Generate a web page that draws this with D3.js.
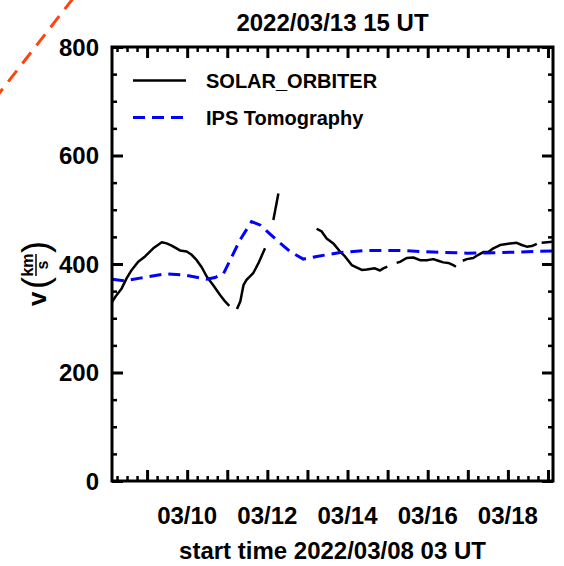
<!DOCTYPE html>
<html>
<head>
<meta charset="utf-8">
<script src="https://cdn.jsdelivr.net/npm/d3@7/dist/d3.min.js"></script>
<style>
  html, body { margin: 0; padding: 0; background: #fff; }
  svg { display: block; font-family: "Liberation Sans", Arial, sans-serif; font-weight: bold; }
</style>
</head>
<body>
<svg id="chart" width="564" height="566"></svg>
<script>
// Solar wind speed: Solar Orbiter in-situ vs IPS tomography
const titleText = "2022/03/13 15 UT";
const startLabel = "start time 2022/03/08 03 UT";
const startTime = Date.UTC(2022, 2, 8, 3);   // 2022/03/08 03 UT
const spanDays = 11;

// Solar Orbiter segments: [hours since start, km/s]
const soSeg1 = [[0,330],[2.8,343],[5.8,355],[8.8,374],[11.8,389],[15.7,404],[19.8,414],[24.7,429],[29.8,440],[32.7,438],[35.7,434],[40.7,425],[44.7,423],[47.7,417],[50.7,407],[53.7,394],[56.7,377],[60.6,361],[64.7,343],[67.7,331],[70.2,323]];
const soSeg2 = [[74.8,317],[76.8,331],[78.7,361],[80.6,371],[82.6,377],[84.5,383],[87.6,401],[91.6,429]];
const soSeg3 = [[96.6,481],[99.6,530]];
const soSeg4 = [[122.5,465],[125.5,460],[128.5,447],[132.5,438],[136.5,423],[139.5,414],[143.5,398],[149.5,389],[152.5,390],[157.4,392],[160.4,388],[162.4,392],[164.8,395]];
const soSeg5 = [[170.4,402],[172.4,404],[176.4,411],[180.4,412],[184.4,407],[188.4,407],[192.3,409],[195.3,406],[198.3,403],[201.3,402],[204.3,398],[205.9,395]];
const soSeg6 = [[210,406],[212.4,409],[216.3,411],[219.3,417],[222.3,422],[225.3,422],[228.3,429],[232.3,435],[238.3,438],[242.3,439],[245.3,435],[248.3,432],[251.3,433],[254.3,437]];
const soSeg7 = [[257.2,439],[264,441]];
const soSegments = [soSeg1, soSeg2, soSeg3, soSeg4, soSeg5, soSeg6, soSeg7];

// IPS tomography: [hours since start, km/s]
const ipsHours = [0,7.7,16.8,32.6,42.7,56.6,61.7,66.7,76.6,83.5,88.6,98.6,106.6,114.5,122.6,136.6,152.4,172.3,192.2,212.4,232.3,252.2,264];
const ipsSpeed = [372,369,374,382,380,372,375,382,444,478,472,444,423,409,414,421,425,425,422,420,421,423,424];

const xTickLabels = ["03/10","03/12","03/14","03/16","03/18"];
const yMajorTicks = [0,200,400,600,800];
const seriesNames = ["SOLAR_ORBITER","IPS Tomography"];

const plot = { left: 112, right: 553, top: 47, bottom: 481 };

const svg = d3.select("#chart");
const hour = 3600 * 1000;
const t0 = new Date(startTime), t1 = new Date(startTime + spanDays * 24 * hour);

const x = d3.scaleUtc().domain([t0, t1]).range([plot.left, plot.right]);
const y = d3.scaleLinear().domain([0, 800]).range([plot.bottom, plot.top]);
const toDate = h => new Date(startTime + h * hour);

// diagonal reference line at the upper-left corner
svg.append("line")
  .attr("x1", -20).attr("y1", 118).attr("x2", 85).attr("y2", -17)
  .attr("stroke", "#ff4410").attr("stroke-width", 3)
  .attr("stroke-dasharray", "14,9");

svg.append("defs").append("clipPath").attr("id", "plotClip")
  .append("rect")
  .attr("x", plot.left).attr("y", plot.top)
  .attr("width", plot.right - plot.left).attr("height", plot.bottom - plot.top);

const line = d3.line().x(d => x(toDate(d[0]))).y(d => y(d[1]));
const data = svg.append("g").attr("clip-path", "url(#plotClip)");

data.selectAll("path.so").data(soSegments).join("path")
  .attr("class", "so")
  .attr("d", line)
  .attr("fill", "none").attr("stroke", "#000").attr("stroke-width", 2.5)
  .attr("stroke-linejoin", "round");

data.append("path")
  .datum(ipsHours.map((h, i) => [h, ipsSpeed[i]]))
  .attr("d", line)
  .attr("fill", "none").attr("stroke", "#0000ff").attr("stroke-width", 3)
  .attr("stroke-dasharray", "12,7");

// ticks
const majorLen = 11, minorLen = 5;
const dayTicks = d3.utcDay.range(t0, t1);
const minorX = d3.utcHour.every(6).range(t0, t1).filter(d => d.getUTCHours() !== 0);
const minorY = d3.range(0, 801, 50).filter(v => v % 200 !== 0);

function styleTicks(g, w) {
  g.select(".domain").remove();
  g.selectAll(".tick line").attr("stroke", "#000").attr("stroke-width", w);
  g.selectAll(".tick text").remove();
}

svg.append("g").attr("transform", `translate(0,${plot.bottom})`)
  .call(d3.axisBottom(x).tickValues(dayTicks).tickSizeInner(-majorLen).tickSizeOuter(0))
  .call(g => styleTicks(g, 3));
svg.append("g").attr("transform", `translate(0,${plot.bottom})`)
  .call(d3.axisBottom(x).tickValues(minorX).tickSizeInner(-minorLen).tickSizeOuter(0))
  .call(g => styleTicks(g, 2.5));
svg.append("g").attr("transform", `translate(0,${plot.top})`)
  .call(d3.axisTop(x).tickValues(dayTicks).tickSizeInner(-majorLen).tickSizeOuter(0))
  .call(g => styleTicks(g, 3));
svg.append("g").attr("transform", `translate(0,${plot.top})`)
  .call(d3.axisTop(x).tickValues(minorX).tickSizeInner(-minorLen).tickSizeOuter(0))
  .call(g => styleTicks(g, 2.5));

svg.append("g").attr("transform", `translate(${plot.left},0)`)
  .call(d3.axisLeft(y).tickValues(yMajorTicks).tickSizeInner(-majorLen).tickSizeOuter(0))
  .call(g => styleTicks(g, 3));
svg.append("g").attr("transform", `translate(${plot.left},0)`)
  .call(d3.axisLeft(y).tickValues(minorY).tickSizeInner(-minorLen).tickSizeOuter(0))
  .call(g => styleTicks(g, 2.5));
svg.append("g").attr("transform", `translate(${plot.right},0)`)
  .call(d3.axisRight(y).tickValues(yMajorTicks).tickSizeInner(-majorLen).tickSizeOuter(0))
  .call(g => styleTicks(g, 3));
svg.append("g").attr("transform", `translate(${plot.right},0)`)
  .call(d3.axisRight(y).tickValues(minorY).tickSizeInner(-minorLen).tickSizeOuter(0))
  .call(g => styleTicks(g, 2.5));

// frame
svg.append("rect")
  .attr("x", plot.left).attr("y", plot.top)
  .attr("width", plot.right - plot.left).attr("height", plot.bottom - plot.top)
  .attr("fill", "none").attr("stroke", "#000").attr("stroke-width", 3);

// tick labels
svg.append("g").selectAll("text").data(yMajorTicks).join("text")
  .attr("x", 99).attr("y", d => y(d)).attr("dy", "0.36em")
  .attr("text-anchor", "end").attr("font-size", 24).attr("fill", "#000")
  .text(d => d);

const parseDay = d3.utcParse("%Y/%m/%d");
svg.append("g").selectAll("text").data(xTickLabels).join("text")
  .attr("x", d => x(parseDay("2022/" + d))).attr("y", 524)
  .attr("text-anchor", "middle").attr("font-size", 24).attr("fill", "#000")
  .text(d => d);

// titles
svg.append("text").attr("x", (plot.left + plot.right) / 2).attr("y", 31)
  .attr("text-anchor", "middle").attr("font-size", 24).text(titleText);
svg.append("text").attr("x", (plot.left + plot.right) / 2).attr("y", 559)
  .attr("text-anchor", "middle").attr("font-size", 24).text(startLabel);

// y-axis label: v (km / s)
const yl = svg.append("g").attr("transform", "translate(46,270) rotate(-90)");
yl.append("text").attr("x", -36).attr("y", 0).attr("font-size", 26).text("v");
yl.append("text").attr("x", -19).attr("y", 2).attr("font-size", 36).attr("font-weight", "normal").text("(");
yl.append("text").attr("x", 5).attr("y", -13).attr("text-anchor", "middle").attr("font-size", 16).text("km");
yl.append("line").attr("x1", -6).attr("x2", 16).attr("y1", -10).attr("y2", -10).attr("stroke", "#000").attr("stroke-width", 1.5);
yl.append("text").attr("x", 5).attr("y", 2).attr("text-anchor", "middle").attr("font-size", 16).text("s");
yl.append("text").attr("x", 17).attr("y", 2).attr("font-size", 36).attr("font-weight", "normal").text(")");

// legend
const legend = svg.append("g");
const legendRows = [
  { name: seriesNames[0], color: "#000", width: 2.5, dash: null, y: 80.5 },
  { name: seriesNames[1], color: "#0000ff", width: 3, dash: "12,7", y: 117.5 }
];
legendRows.forEach(r => {
  legend.append("line").attr("x1", 133).attr("x2", 186).attr("y1", r.y).attr("y2", r.y)
    .attr("stroke", r.color).attr("stroke-width", r.width)
    .attr("stroke-dasharray", r.dash);
  legend.append("text").attr("x", 206).attr("y", r.y + 7).attr("font-size", 20).text(r.name);
});
</script>
</body>
</html>
